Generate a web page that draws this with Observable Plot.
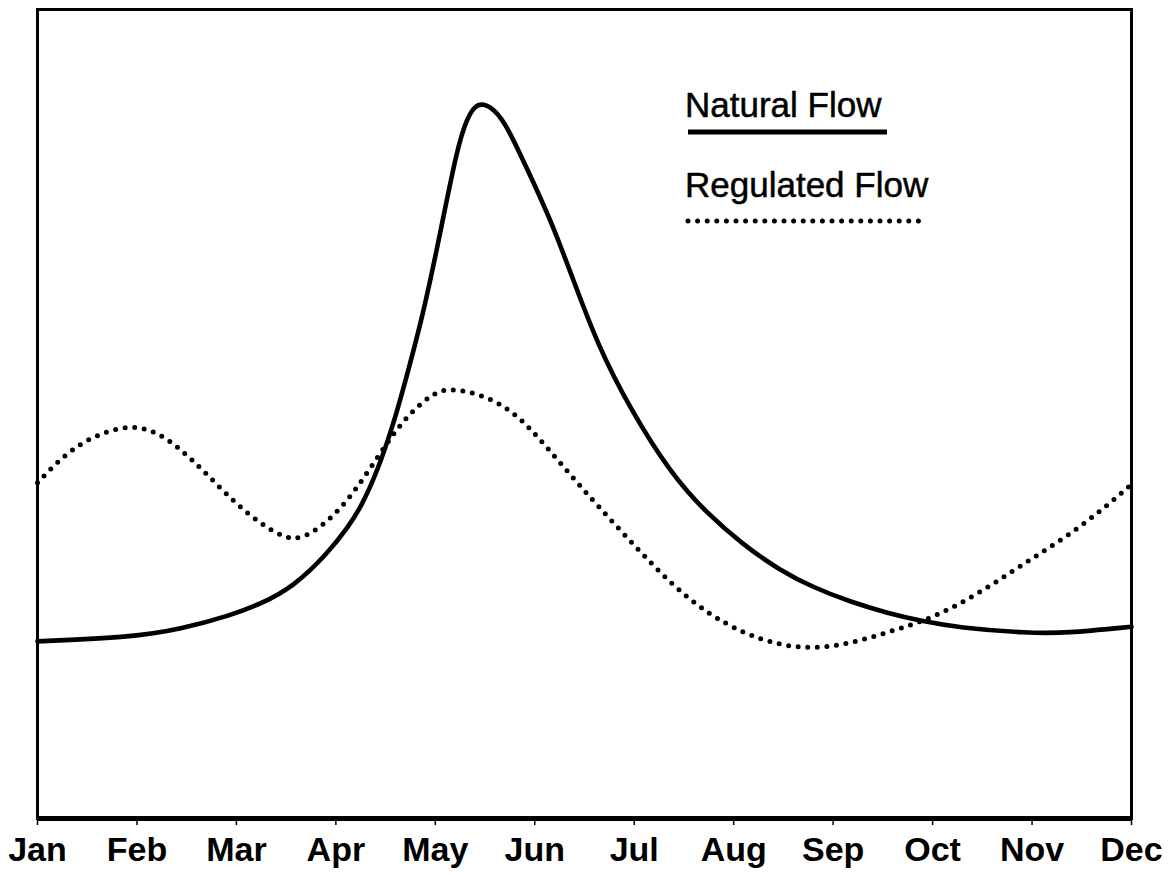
<!DOCTYPE html>
<html>
<head>
<meta charset="utf-8">
<script src="https://cdn.jsdelivr.net/npm/d3@7"></script>
<script src="https://cdn.jsdelivr.net/npm/@observablehq/plot@0.6"></script>
<style>
  html, body { margin: 0; padding: 0; background: #fff; }
  #wrap { position: relative; width: 1168px; height: 875px; }
  #legend { position: absolute; left: 0; top: 0; pointer-events: none; }
  #legend text { font-family: "Liberation Sans", Arial, sans-serif; font-size: 35px; fill: #000; stroke: #000; stroke-width: 0.5px; }
</style>
</head>
<body>
<div id="wrap"></div>
<script>
// Month tick labels (Jan = 0 ... Dec = 11)
const monthLabels = ["Jan","Feb","Mar","Apr","May","Jun","Jul","Aug","Sep","Oct","Nov","Dec"];

// Natural Flow (month position, relative flow 0-100)
const naturalMonth = [0, 0.94, 1.44, 1.94, 2.24, 2.57, 2.92, 3.12, 3.25, 3.42, 3.58, 3.70, 3.88, 4.05, 4.22, 4.32, 4.40, 4.48, 4.60, 4.73, 4.93, 5.16, 5.39, 5.63, 5.96, 6.37, 6.74, 7.10, 7.46, 7.81, 8.17, 8.54, 8.89, 9.25, 9.97, 10.33, 11];
const naturalFlow  = [21.9, 22.4, 23.4, 25.1, 26.5, 28.6, 32.8, 36.0, 38.4, 43.0, 48.8, 54.1, 62.4, 72.4, 82.9, 86.6, 88.1, 88.4, 87.6, 85.4, 80.1, 74.0, 66.5, 58.6, 50.6, 42.6, 37.6, 33.8, 30.7, 28.5, 26.8, 25.4, 24.4, 23.6, 22.9, 22.9, 23.7];

// Regulated Flow (month position, relative flow 0-100)
const regulatedMonth = [0, 0.23, 0.53, 0.94, 1.24, 1.54, 1.84, 2.14, 2.44, 2.59, 2.75, 3.05, 3.35, 3.65, 3.95, 4.15, 4.63, 4.96, 5.29, 5.63, 6.02, 6.37, 6.74, 7.10, 7.46, 7.81, 8.17, 8.54, 8.89, 9.25, 9.61, 9.97, 10.33, 10.69, 11];
const regulatedFlow  = [41.5, 44.5, 47.2, 48.8, 47.6, 44.6, 40.8, 37.3, 34.9, 34.5, 35.1, 38.1, 43.3, 49.0, 52.4, 53.4, 51.8, 48.3, 43.4, 38.7, 33.5, 29.0, 25.3, 22.9, 21.4, 21.0, 21.6, 23.0, 24.3, 26.3, 29.0, 31.9, 34.7, 38.0, 41.3];

const natural = naturalMonth.map((m, i) => ({m, v: naturalFlow[i]}));
const regulated = regulatedMonth.map((m, i) => ({m, v: regulatedFlow[i]}));

const chart = Plot.plot({
  width: 1168,
  height: 875,
  marginTop: 9,
  marginBottom: 57,
  marginLeft: 37,
  marginRight: 37,
  style: { fontFamily: "'Liberation Sans', Arial, sans-serif", background: "#fff", color: "#000" },
  x: { domain: [0, 11] },
  y: { domain: [0, 100], axis: null },
  marks: [
    Plot.frame({ stroke: "#000", strokeWidth: 3 }),
    Plot.ruleY([0], { stroke: "#000", strokeWidth: 5 }),
    Plot.line(natural, { x: "m", y: "v", curve: "basis", stroke: "#000", strokeWidth: 4.6 }),
    Plot.line(regulated, { x: "m", y: "v", curve: "basis", stroke: "#000", strokeWidth: 5,
      strokeDasharray: "0 9.6", strokeLinecap: "round" }),
    Plot.axisX({
      ticks: d3.range(monthLabels.length),
      tickFormat: i => monthLabels[i],
      tickSize: 7,
      tickPadding: 11,
      fontSize: 34,
      fontWeight: "bold",
      strokeWidth: 1.5,
      label: null
    })
  ]
});

const wrap = document.getElementById("wrap");
wrap.appendChild(chart);

// Legend overlay (inside plot area, top right)
const ns = "http://www.w3.org/2000/svg";
const leg = document.createElementNS(ns, "svg");
leg.setAttribute("id", "legend");
leg.setAttribute("width", 1168);
leg.setAttribute("height", 875);
const legendItems = [
  { label: "Natural Flow", dash: null, len: 199 },
  { label: "Regulated Flow", dash: "0 9.6", len: 237 }
];
legendItems.forEach((it, i) => {
  const baseY = 117 + i * 80;
  const t = document.createElementNS(ns, "text");
  t.setAttribute("x", 685);
  t.setAttribute("y", baseY);
  t.textContent = it.label;
  leg.appendChild(t);
  const l = document.createElementNS(ns, "line");
  l.setAttribute("x1", 688);
  l.setAttribute("x2", 688 + it.len);
  l.setAttribute("y1", baseY + 15 + i * 9);
  l.setAttribute("y2", baseY + 15 + i * 9);
  l.setAttribute("stroke", "#000");
  l.setAttribute("stroke-width", 5);
  if (it.dash) { l.setAttribute("stroke-dasharray", it.dash); l.setAttribute("stroke-linecap", "round"); }
  leg.appendChild(l);
});
wrap.appendChild(leg);
</script>
</body>
</html>
